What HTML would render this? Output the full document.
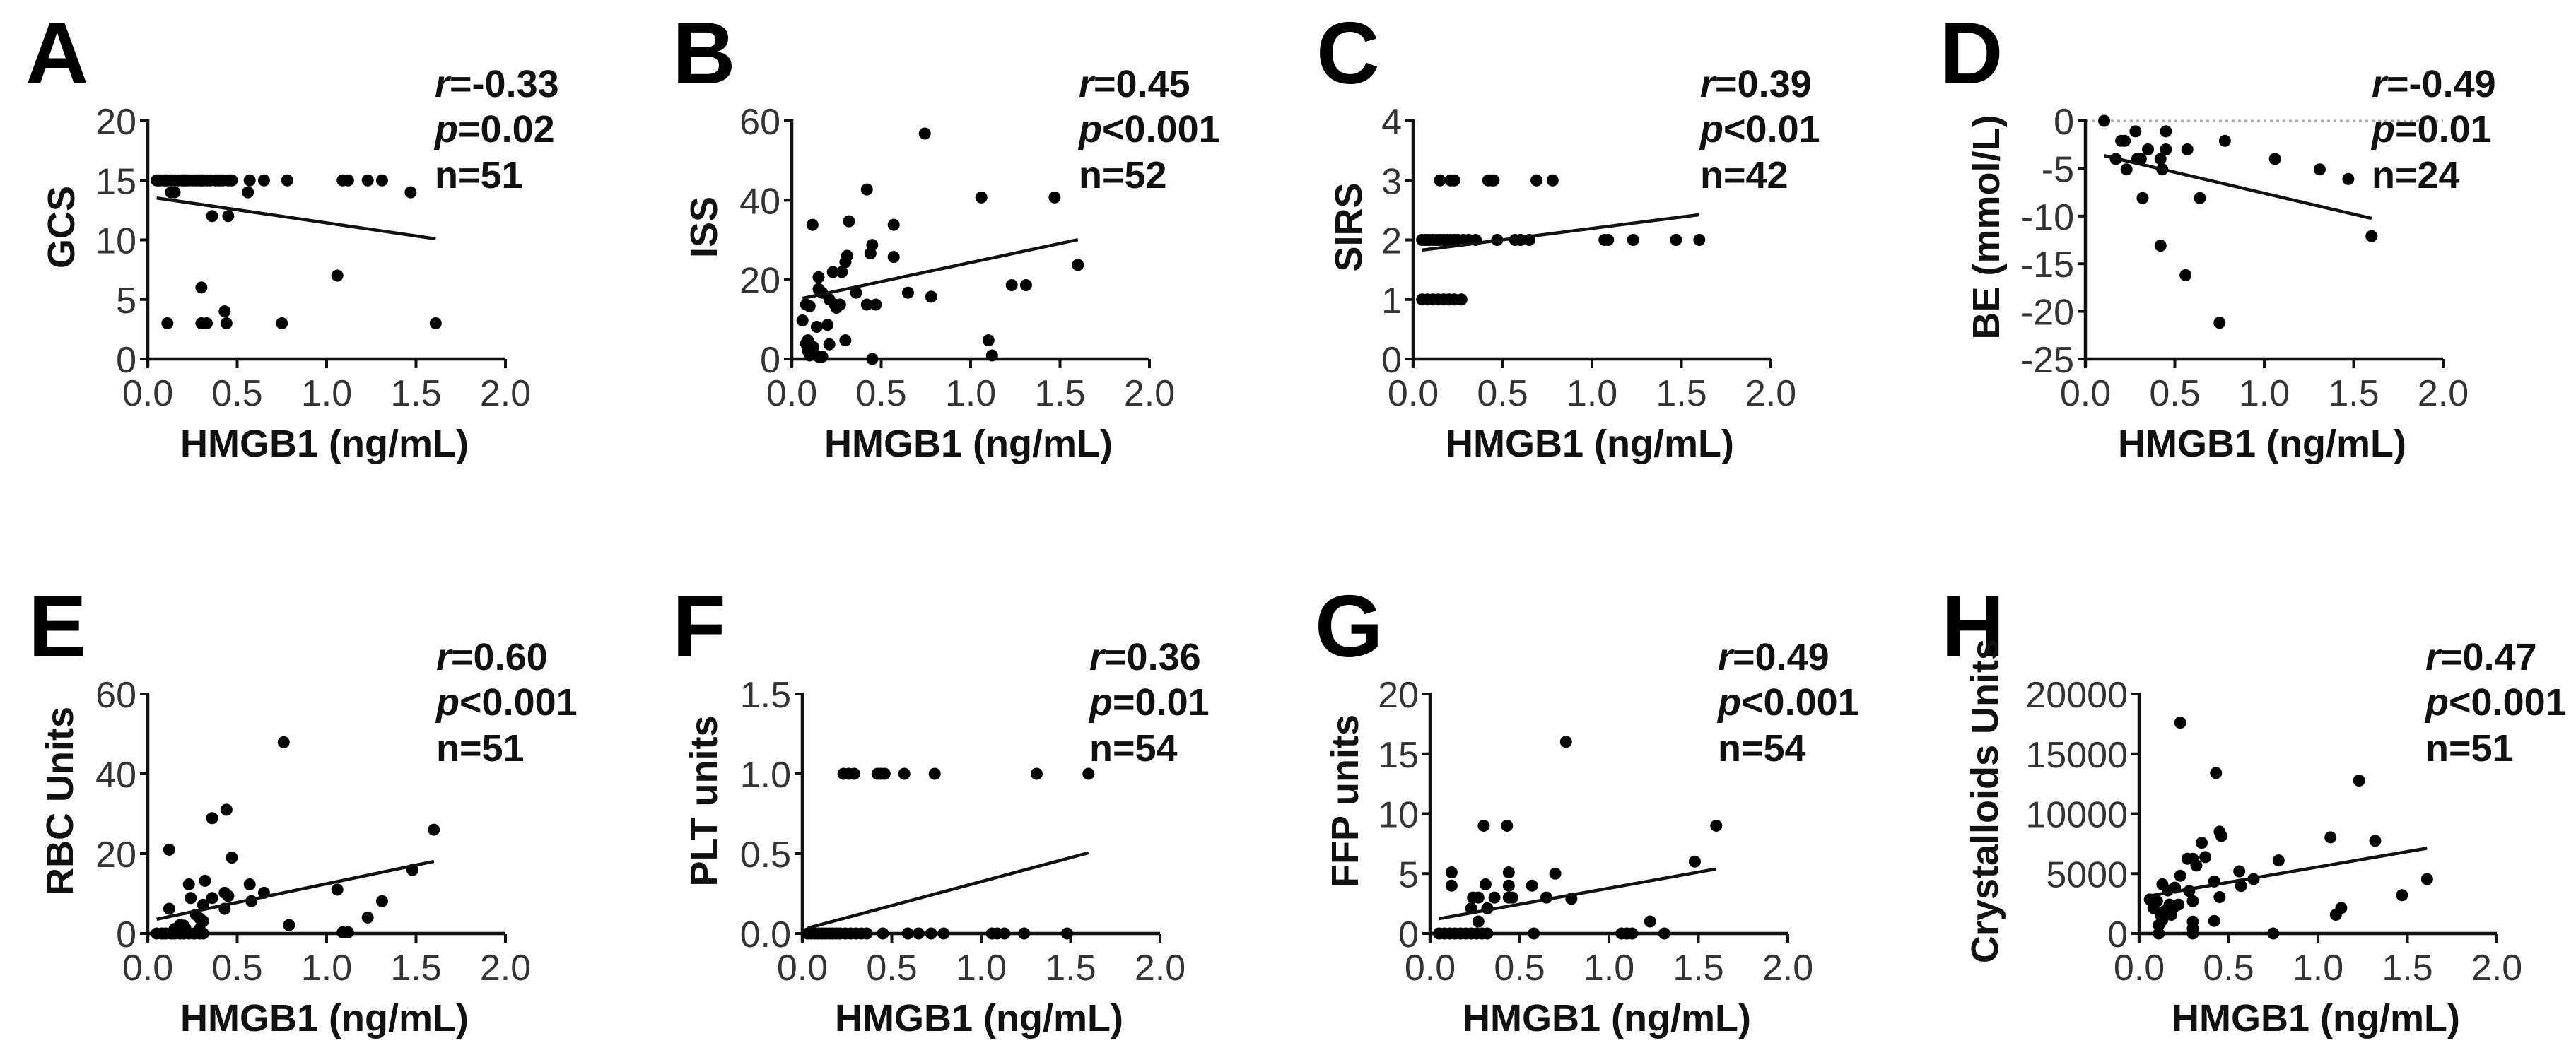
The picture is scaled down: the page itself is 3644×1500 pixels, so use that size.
<!DOCTYPE html>
<html><head><meta charset="utf-8"><style>
html,body{margin:0;padding:0;background:#fff;}
svg{display:block;font-family:"Liberation Sans",Arial,sans-serif;}
</style></head><body>
<svg id="fig" width="3644" height="1500" viewBox="0 0 3644 1500" xmlns="http://www.w3.org/2000/svg"></svg>
<script>
// ---------- Data (HMGB1 ng/mL on x) ----------
const aX=[0.05,0.07,0.09,0.11,0.13,0.15,0.17,0.19,0.21,0.23,0.25,0.27,0.29,0.31,0.33,0.35,0.38,0.42,0.45,0.47,0.06,0.10,0.20,0.30,0.40,0.57,0.65,0.78,1.09,1.12,1.23,1.31,0.13,0.15,0.56,1.47,0.36,0.45,1.06,0.30,0.43,0.11,0.30,0.33,0.44,0.75,1.61];
const aY=[15,15,15,15,15,15,15,15,15,15,15,15,15,15,15,15,15,15,15,15,15,15,15,15,15,15,15,15,15,15,15,15,14,14,14,14,12,12,7,6,4,3,3,3,3,3,3];
const aFit=[-2.2,13.63];
const bX=[0.116,0.744,0.42,0.32,0.57,1.06,1.47,0.45,0.44,0.57,0.31,0.30,0.28,0.23,0.15,0.15,0.17,0.36,0.65,0.78,0.21,0.24,0.27,0.25,0.08,0.10,0.42,0.47,1.23,1.31,1.60,0.06,0.14,0.20,0.09,0.08,0.21,0.30,1.10,1.12,0.45,0.10,0.15,0.17,0.09,0.12];
const bY=[33.8,56.8,42.7,34.7,33.8,40.7,40.7,28.7,26.6,25.7,26,24.4,21.9,21.9,20.6,17.6,16.7,16.7,16.7,15.7,15,13.7,13.7,12.9,13.7,13.3,13.7,13.7,18.6,18.6,23.7,9.7,8.1,8.6,4.7,3.9,3.7,4.7,4.7,0.9,0,0.9,0.6,0.6,2.1,3];
const bFit=[9.6,14.7];
const cX=[0.15,0.21,0.23,0.42,0.44,0.45,0.69,0.78,0.05,0.07,0.09,0.11,0.13,0.15,0.17,0.19,0.21,0.23,0.25,0.28,0.31,0.35,0.47,0.57,0.60,0.65,1.07,1.09,1.23,1.47,1.60,0.05,0.08,0.11,0.14,0.17,0.20,0.23,0.27];
const cY=[3,3,3,3,3,3,3,3,2,2,2,2,2,2,2,2,2,2,2,2,2,2,2,2,2,2,2,2,2,2,2,1,1,1,1,1,1,1,1];
const cFit=[0.383,1.81];
const dX=[0.105,0.28,0.45,0.20,0.22,0.78,0.35,0.45,0.57,0.17,0.31,0.42,1.06,0.23,0.43,1.31,1.47,0.32,0.64,1.60,0.42,0.56,0.75,0.29];
const dY=[0,-1.1,-1.1,-2.1,-2.1,-2.1,-3,-3,-3,-4,-4,-4,-4,-5.1,-5.1,-5.1,-6.1,-8.1,-8.1,-12.1,-13.1,-16.2,-21.2,-4];
const dFit=[-4.4,-3.2];
const eX=[0.76,0.44,0.36,0.12,0.47,1.60,1.48,1.06,1.31,1.23,0.79,1.12,1.09,0.23,0.32,0.57,0.65,0.43,0.45,0.36,0.24,0.58,0.12,0.31,0.43,0.27,0.29,0.31,0.18,0.20,0.05,0.08,0.10,0.13,0.15,0.18,0.20,0.23,0.26,0.29,0.31,0.15,0.21,0.29];
const eY=[47.9,31,28.9,21,19,26,15.9,11,8.1,4,2.1,0.3,0.3,12.3,13.2,12.3,10.2,10.2,9.4,8.9,8.9,8.1,6.2,7.2,6.2,4.7,3.8,3.1,2.1,2,0,0,0,0,0,0,0,0,0,0,0,1.1,1.3,1.1];
const eFit=[9.35,3.1];
const fX=[0.23,0.26,0.29,0.42,0.44,0.46,0.57,0.74,1.31,1.60,0.03,0.05,0.07,0.09,0.11,0.13,0.15,0.17,0.19,0.21,0.24,0.27,0.30,0.33,0.36,0.45,0.59,0.65,0.72,0.79,1.06,1.09,1.13,1.24,1.48];
const fY=[1,1,1,1,1,1,1,1,1,1,0,0,0,0,0,0,0,0,0,0,0,0,0,0,0,0,0,0,0,0,0,0,0,0,0];
const fFit=[0.30,0.025];
const gX=[0.76,0.30,0.43,1.60,1.48,0.12,0.44,0.70,0.12,0.31,0.44,0.57,0.24,0.27,0.36,0.44,0.46,0.65,0.79,0.23,0.32,0.27,1.23,1.31,1.07,1.10,1.13,0.58,0.05,0.08,0.11,0.14,0.17,0.20,0.23,0.26,0.29,0.32];
const gY=[16,9,9,9,6,5.1,5.1,5,4,4.1,4,4,3,3,3,3,3,3,2.9,2.1,2.1,1,1,0,0,0,0,0,0,0,0,0,0,0,0,0,0,0];
const gFit=[2.68,1.1];
const hX=[0.23,0.43,1.23,0.45,0.46,1.07,1.32,0.35,0.27,0.30,0.37,0.32,0.78,0.56,0.23,0.64,0.42,1.61,0.57,0.13,0.20,0.16,0.28,1.47,0.45,0.06,0.10,0.30,1.13,1.10,0.42,0.30,0.30,0.30,0.11,0.75,0.08,0.12,0.14,0.17,0.19,0.22,0.13,0.11,0.18];
const hY=[17600,13400,12770,8500,8140,8030,7740,7570,6240,6240,6380,5670,6100,5190,4820,4540,4340,4540,3970,4110,3830,3600,3550,3200,3040,2840,2700,2700,2130,1560,1050,990,430,0,0,0,2130,1560,1840,2410,2130,2410,1130,710,1560];
const hFit=[2563,2990];

const xTicks=[0,0.5,1.0,1.5,2.0];
const xTickLabels=["0.0","0.5","1.0","1.5","2.0"];
const aTicks=[0,5,10,15,20];
const bTicks=[0,20,40,60];
const cTicks=[0,1,2,3,4];
const dTicks=[-25,-20,-15,-10,-5,0];
const eTicks=[0,20,40,60];
const fTicks=[0,0.5,1.0,1.5];
const fTickLabels=["0.0","0.5","1.0","1.5"];
const gTicks=[0,5,10,15,20];
const hTicks=[0,5000,10000,15000,20000];
const statR=["-0.33","0.45","0.39","-0.49","0.60","0.36","0.49","0.47"];
const statP=["=0.02","<0.001","<0.01","=0.01","<0.001","=0.01","<0.001","<0.001"];
const statN=["51","52","42","24","51","54","54","51"];

// ---------- Layout ----------
const W=506;
const panels=[
 {id:"a",L:"A",x0:209,top:171,bot:508,xs:aX,ys:aY,fit:aFit,ticks:aTicks,tl:null,ymin:0,ymax:20,yt:"GCS",lx:-173,ytx:-123,sx:615},
 {id:"b",L:"B",x0:1120,top:171,bot:508,xs:bX,ys:bY,fit:bFit,ticks:bTicks,tl:null,ymin:0,ymax:60,yt:"ISS",lx:-169,ytx:-125,sx:1526},
 {id:"c",L:"C",x0:1999,top:171,bot:508,xs:cX,ys:cY,fit:cFit,ticks:cTicks,tl:null,ymin:0,ymax:4,yt:"SIRS",lx:-137,ytx:-92,sx:2405},
 {id:"d",L:"D",x0:2950,top:171,bot:508,xs:dX,ys:dY,fit:dFit,ticks:dTicks,tl:null,ymin:-25,ymax:0,yt:"BE (mmol/L)",lx:-206,ytx:-141,sx:3355,zero:true},
 {id:"e",L:"E",x0:209,top:982,bot:1321,xs:eX,ys:eY,fit:eFit,ticks:eTicks,tl:null,ymin:0,ymax:60,yt:"RBC Units",lx:-169,ytx:-125,sx:617},
 {id:"f",L:"F",x0:1135,top:982,bot:1321,xs:fX,ys:fY,fit:fFit,ticks:fTicks,tl:fTickLabels,ymin:0,ymax:1.5,yt:"PLT units",lx:-184,ytx:-140,sx:1541},
 {id:"g",L:"G",x0:2023,top:982,bot:1321,xs:gX,ys:gY,fit:gFit,ticks:gTicks,tl:null,ymin:0,ymax:20,yt:"FFP units",lx:-163,ytx:-121,sx:2430},
 {id:"h",L:"H",x0:3026,top:982,bot:1321,xs:hX,ys:hY,fit:hFit,ticks:hTicks,tl:null,ymin:0,ymax:20000,yt:"Crystalloids Units",lx:-280,ytx:-219,sx:3431}
];
const NS="http://www.w3.org/2000/svg";
const svg=document.getElementById("fig");
function mk(tag,attrs,parent){const e=document.createElementNS(NS,tag);for(const k in attrs)e.setAttribute(k,attrs[k]);(parent||svg).appendChild(e);return e;}

panels.forEach((p,i)=>{
  const g=mk("g",{});
  
  
  const sx=v=>p.x0+v/2.0*W;
  const sy=v=>p.bot-(v-p.ymin)/(p.ymax-p.ymin)*(p.bot-p.top);
  const lt=mk("text",{x:p.x0+p.lx,y:p.top-53,"font-size":124,"font-weight":"bold",fill:"#000"},g);
  lt.textContent=p.L;
  
  
  if(p.zero){
    const zl=mk("line",{x1:p.x0,x2:p.x0+W,y1:sy(0),y2:sy(0),stroke:"#aaa","stroke-width":3,"stroke-dasharray":"4 5"},g);
    
    
  }
  const xa=mk("line",{x1:p.x0-2,x2:p.x0+W,y1:p.bot,y2:p.bot,stroke:"#111","stroke-width":4.5},g);
  
  
  const ya=mk("line",{x1:p.x0,x2:p.x0,y1:p.top-2,y2:p.bot+12,stroke:"#111","stroke-width":4.5},g);
  
  
  xTicks.forEach((t,k)=>{
    mk("line",{x1:sx(t),x2:sx(t),y1:p.bot,y2:p.bot+13,stroke:"#111","stroke-width":4},g);
    const tx=mk("text",{x:sx(t),y:p.bot+66,"font-size":52,"text-anchor":"middle",fill:"#333"},g);
    tx.textContent=xTickLabels[k];
    
    
  });
  p.ticks.forEach((t,k)=>{
    mk("line",{x1:p.x0-11,x2:p.x0,y1:sy(t),y2:sy(t),stroke:"#111","stroke-width":4},g);
    const ty=mk("text",{x:p.x0-16,y:sy(t)+19,"font-size":52,"text-anchor":"end",fill:"#333"},g);
    ty.textContent=p.tl?p.tl[k]:String(t);
    
    
  });
  const xt=mk("text",{x:p.x0+W*0.5-3,y:p.bot+138,"font-size":54,"font-weight":"bold","text-anchor":"middle",fill:"#111"},g);
  xt.textContent="HMGB1 (ng/mL)";
  
  
  const cy=(p.top+p.bot)/2-18, cx=p.x0+p.ytx+19;
  const yt=mk("text",{x:cx,y:cy,"font-size":54,"font-weight":"bold","text-anchor":"middle",fill:"#111",transform:"rotate(-90 "+cx+" "+cy+")"},g);
  yt.textContent=p.yt;
  
  
  p.xs.forEach((xv,k)=>{
    const c=mk("circle",{cx:sx(xv),cy:sy(p.ys[k]),r:8.5,fill:"#000"},g);
    
    
  });
  const xmin=Math.min(...p.xs), xmax=Math.max(...p.xs);
  const rl=mk("line",{x1:sx(xmin),y1:sy(p.fit[1]+p.fit[0]*xmin),x2:sx(xmax),y2:sy(p.fit[1]+p.fit[0]*xmax),stroke:"#111","stroke-width":4.5},g);
  
  
  const s=mk("g",{"font-size":54,"font-weight":"bold",fill:"#111"},g);
  
  
  const t1=mk("text",{x:p.sx,y:p.top-34},s);
  const r1=mk("tspan",{"font-style":"italic"},t1); r1.textContent="r";
  const r2=mk("tspan",{},t1); r2.textContent="="+statR[i];
  const t2=mk("text",{x:p.sx,y:p.top+30},s);
  const p1=mk("tspan",{"font-style":"italic"},t2); p1.textContent="p";
  const p2=mk("tspan",{},t2); p2.textContent=statP[i];
  const t3=mk("text",{x:p.sx,y:p.top+95},s);
  t3.textContent="n="+statN[i];
});
</script>
</body></html>
